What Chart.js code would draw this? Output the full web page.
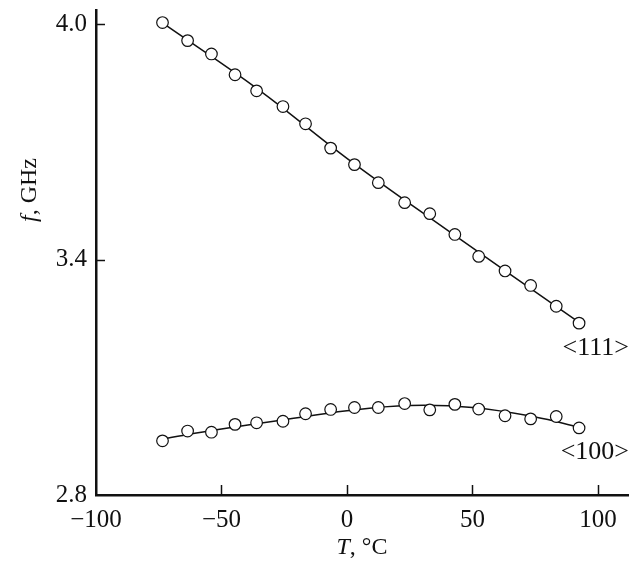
<!DOCTYPE html>
<html>
<head>
<meta charset="utf-8">
<script src="https://cdn.jsdelivr.net/npm/chart.js@4.4.1/dist/chart.umd.min.js"></script>
<style>
  html, body { margin: 0; padding: 0; background: #fff; }
  #wrap { width: 635px; height: 563px; }
</style>
</head>
<body>
<div id="wrap"><canvas id="chart" width="635" height="563"></canvas></div>
<script>
// Temperature points, °C
const temps = [-73.5, -63.5, -54, -44.6, -36, -25.5, -16.5, -6.5, 3, 12.5, 23, 33, 43, 52.5, 63, 73.2, 83.4, 92.5];
// <111> frequency, GHz
const f111 = [4.004, 3.958, 3.924, 3.871, 3.830, 3.790, 3.746, 3.684, 3.642, 3.596, 3.545, 3.517, 3.464, 3.408, 3.371, 3.334, 3.281, 3.238];
// <100> frequency, GHz
const f100 = [2.938, 2.963, 2.960, 2.980, 2.984, 2.988, 3.007, 3.018, 3.023, 3.023, 3.033, 3.017, 3.031, 3.019, 3.002, 2.994, 3.000, 2.971];

// fitted curves
const fit111T = [-73.5, -35, 0, 40, 92.5];
const fit111F = [4.003, 3.832, 3.658, 3.475, 3.240];
const fit100T = [-73.5, -50, -25, 0, 25, 50, 75, 92.5];
const fit100F = [2.943, 2.968, 2.992, 3.015, 3.028, 3.023, 2.999, 2.973];

const xTicks = [-100, -50, 0, 50, 100];
const yTicks = [2.8, 3.4, 4.0];

const pts = (xs, ys) => xs.map((x, i) => ({ x: x, y: ys[i] }));

const SERIF = '"Liberation Serif", "DejaVu Serif", serif';

// inward ticks + axis titles + curve labels
const extras = {
    id: 'extras',
    afterDraw(chart) {
        const c = chart.ctx;
        const xs = chart.scales.x, ys = chart.scales.y;
        const area = chart.chartArea;
        c.save();
        c.strokeStyle = '#111';
        c.lineWidth = 1.5;
        xTicks.forEach(v => {
            const px = Math.round(xs.getPixelForValue(v)) + 0.5;
            if (v === -100) return;
            c.beginPath();
            c.moveTo(px, area.bottom);
            c.lineTo(px, area.bottom - 10);
            c.stroke();
        });
        yTicks.forEach(v => {
            const py = Math.round(ys.getPixelForValue(v)) + 0.5;
            if (v === 2.8) return;
            c.beginPath();
            c.moveTo(area.left, py);
            c.lineTo(area.left + 9, py);
            c.stroke();
        });

        c.fillStyle = '#111';
        c.textBaseline = 'middle';

        // x title
        c.font = 'italic 24px ' + SERIF;
        const tW = c.measureText('T').width;
        c.font = '24px ' + SERIF;
        const restX = ', \u00B0C';
        const rW = c.measureText(restX).width;
        let sx = 362 - (tW + rW) / 2;
        c.textAlign = 'left';
        c.font = 'italic 24px ' + SERIF;
        c.fillText('T', sx, 548);
        c.font = '24px ' + SERIF;
        c.fillText(restX, sx + tW, 548);

        // y title
        c.translate(30, 190);
        c.rotate(-Math.PI / 2);
        c.font = 'italic 24px ' + SERIF;
        const fW = c.measureText('f').width;
        c.font = '24px ' + SERIF;
        const restY = ', GHz';
        const gW = c.measureText(restY).width;
        sx = -(fW + gW) / 2;
        c.font = 'italic 24px ' + SERIF;
        c.fillText('f', sx, 0);
        c.font = '24px ' + SERIF;
        c.fillText(restY, sx + fW, 0);
        c.restore();

        c.save();
        c.fillStyle = '#111';
        c.font = '26px ' + SERIF;
        c.textAlign = 'right';
        c.textBaseline = 'middle';
        c.fillText('<111>', 629, 348);
        c.fillText('<100>', 629, 452);
        c.restore();
    }
};

const lineStyle = {
    type: 'line',
    borderColor: '#111',
    borderWidth: 1.5,
    pointRadius: 0,
    tension: 0.4,
    fill: false,
    order: 2
};
const markStyle = {
    type: 'scatter',
    showLine: false,
    pointStyle: 'circle',
    pointRadius: 5.8,
    pointBorderWidth: 1.2,
    pointBorderColor: '#111',
    pointBackgroundColor: '#fff',
    order: 1
};

new Chart(document.getElementById('chart'), {
    data: {
        datasets: [
            Object.assign({ label: 'fit <111>', data: pts(fit111T, fit111F) }, lineStyle),
            Object.assign({ label: 'fit <100>', data: pts(fit100T, fit100F) }, lineStyle),
            Object.assign({ label: '<111>', data: pts(temps, f111) }, markStyle),
            Object.assign({ label: '<100>', data: pts(temps, f100) }, markStyle)
        ]
    },
    options: {
        responsive: false,
        animation: false,
        layout: { padding: { top: 10, right: 7, left: 0, bottom: 0 } },
        plugins: {
            legend: { display: false },
            tooltip: { enabled: false }
        },
        scales: {
            x: {
                type: 'linear',
                min: -100,
                max: 112,
                afterBuildTicks: s => { s.ticks = xTicks.map(v => ({ value: v })); },
                afterFit: s => { s.height = 68; s.paddingLeft = 0; s.paddingRight = 0; },
                grid: { display: false, drawTicks: false },
                border: { display: true, color: '#111', width: 2.5 },
                ticks: {
                    padding: 10,
                    color: '#111',
                    font: { family: SERIF, size: 25 },
                    callback: v => (v < 0 ? '\u2212' + Math.abs(v) : String(v))
                }
            },
            y: {
                type: 'linear',
                min: 2.8,
                max: 4.036,
                afterBuildTicks: s => { s.ticks = yTicks.map(v => ({ value: v })); },
                afterFit: s => { s.width = 96; s.paddingTop = 0; s.paddingBottom = 0; },
                grid: { display: false, drawTicks: false },
                border: { display: true, color: '#111', width: 2.5 },
                ticks: {
                    padding: 9,
                    color: '#111',
                    font: { family: SERIF, size: 25 },
                    callback: v => v.toFixed(1)
                }
            }
        }
    },
    plugins: [extras]
});
</script>
</body>
</html>
